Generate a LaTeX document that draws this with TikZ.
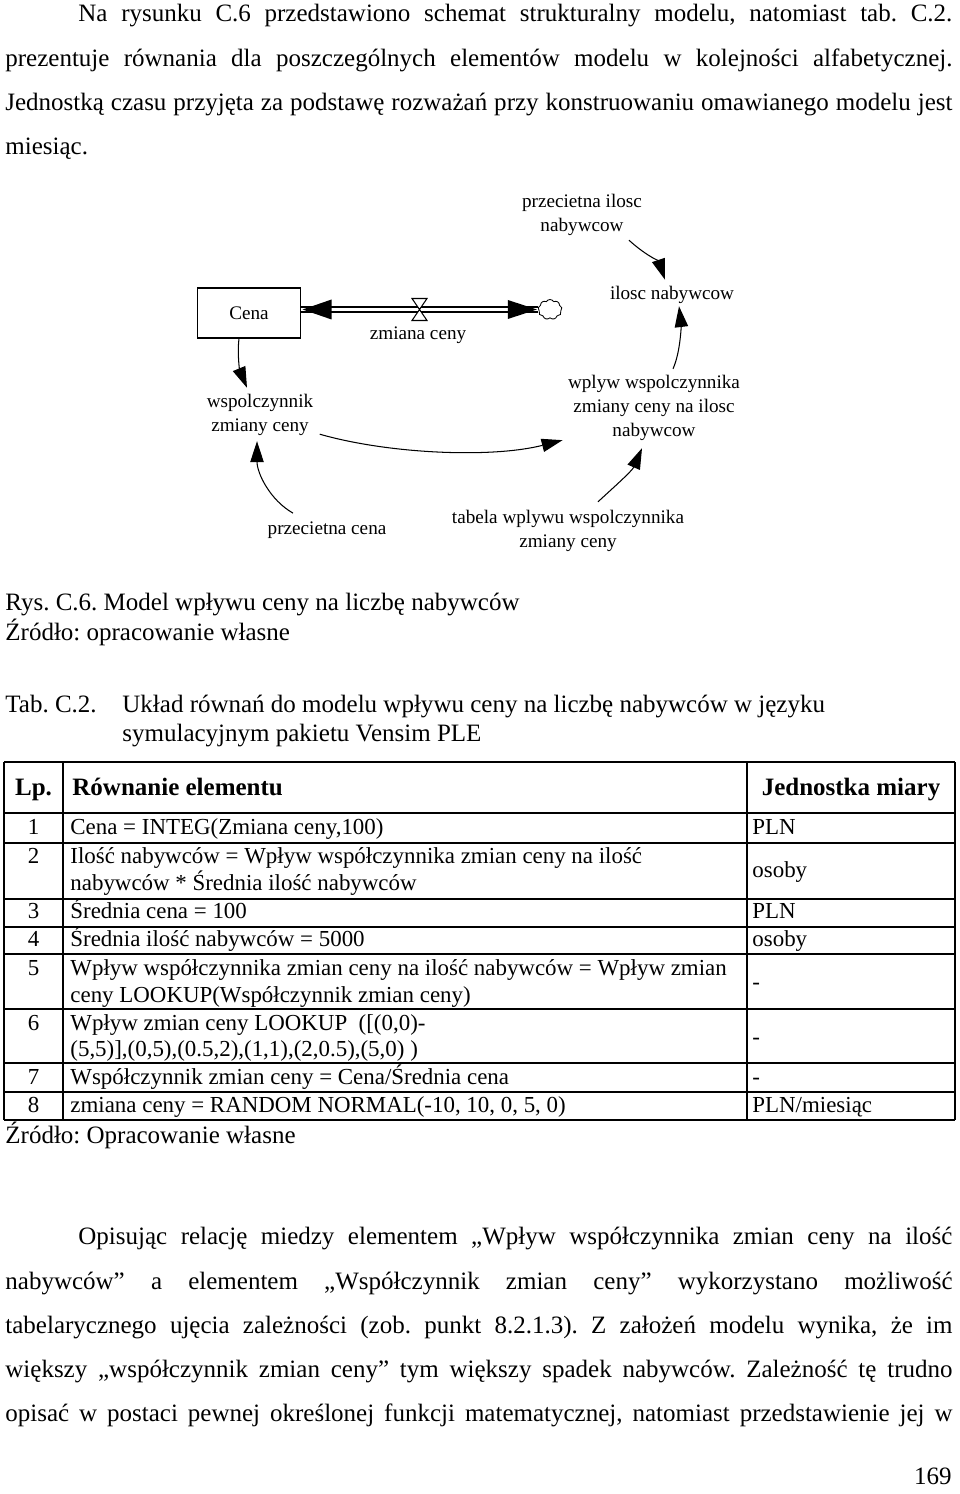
\documentclass[tikz,border=0pt]{standalone}
\usepackage{fontspec}
\setmainfont{Liberation Serif}
\usetikzlibrary{arrows.meta}
\usetikzlibrary{calc}
\usetikzlibrary{shapes.symbols}
\frenchspacing
\newcommand\diagfont{\fontsize{9.2}{11.5}\selectfont}
\newcommand\jline[2]{\makebox[#1][s]{#2}}
\tikzset{
  txt/.style={anchor=west, inner sep=0pt, text height=8.4pt, text depth=2.4pt, font=\fontsize{12}{14}\selectfont},
  cell/.style={txt, font=\fontsize{11}{13}\selectfont},
  num/.style={cell, anchor=center},
  head/.style={txt, font=\fontsize{12}{14}\selectfont\bfseries},
  var/.style={font=\diagfont, align=center, inner sep=1pt},
  stock/.style={draw, line width=0.5pt, minimum width=49pt, minimum height=24pt, inner sep=0pt, font=\diagfont},
  link/.style={line width=0.5pt, -{Triangle[length=10pt,width=6.4pt]}},
  pipe/.style={double, double distance=1.9pt, line width=0.5pt},
  rule/.style={line width=0.5pt}
}
\begin{document}
\begin{tikzpicture}[x=0.48pt, y=-0.48pt]
    \useasboundingbox (0,0) rectangle (960,1494);
    \node[txt] (p1a) at (78,15) {\jline{419.5pt}{Na rysunku C.6 przedstawiono schemat strukturalny modelu, natomiast tab. C.2.}};
    \node[txt] (p1b) at (5,60) {\jline{454.6pt}{prezentuje równania dla poszczególnych elementów modelu w kolejności alfabetycznej.}};
    \node[txt] (p1c) at (5,104) {\jline{454.6pt}{Jednostką czasu przyjęta za podstawę rozważań przy konstruowaniu omawianego modelu jest}};
    \node[txt] (p1d) at (5,148) {miesiąc.};

    \node[var] (pin) at (582,215) {przecietna ilosc\\nabywcow};
    \node[stock] (cena) at (249,313) {Cena};
    \node[var] (ilosc) at (672,295) {ilosc nabywcow};
    \node[cloud, draw, line width=0.4pt, cloud puffs=9, cloud puff arc=120, aspect=1.2, minimum width=11.5pt, minimum height=9.6pt, inner sep=0pt] (sink) at (550,309.5) {};
    \coordinate (valve) at (419.5,309.5);
    \node[var] (flow) at (418,335) {zmiana ceny};
    \node[var] (wspol) at (260,415) {wspolczynnik\\zmiany ceny};
    \node[var] (wplyw) at (654,408) {wplyw wspolczynnika\\zmiany ceny na ilosc\\nabywcow};
    \node[var] (pcena) at (327,530) {przecietna cena};
    \node[var] (tabela) at (568,531) {tabela wplywu wspolczynnika\\zmiany ceny};

    \draw[pipe] (cena.east |- sink.west) -- (sink.west);
    \fill ($(cena.east |- sink.west)+(2,0)$) -- ++(29,-10) -- ++(0,20) -- cycle;
    \fill ($(sink.west)+(-1,0)$) -- ++(-29,-9.5) -- ++(0,19) -- cycle;
    \draw[fill=white, line width=0.5pt] ($(valve)+(-7.5,-11)$) -- ++(15,0) -- ++(-15,22) -- ++(15,0) -- cycle;

    \draw[link] ($(pin.south)+(47,2)$) .. controls +(14,13) and +(-6,-18) .. ($(ilosc.north)+(-7,-4)$);
    \draw[link] ($(wplyw.north)+(19,-4)$) .. controls +(8,-18) and +(2,17) .. ($(ilosc.south)+(7,0)$);
    \draw[link] ($(cena.south)+(-10,0)$) .. controls +(-2,17) and +(-7,-17) .. ($(wspol.north)+(-13,-4)$);
    \draw[link] ($(wspol.south east)+(4,-4)$) .. controls +(70,20) and +(-70,18) .. ($(wplyw.south west)+(-3,-3)$);
    \draw[link] ($(pcena.north)+(-34,-6)$) .. controls +(-23,-13) and +(0,32) .. ($(wspol.south)+(-3,3)$);
    \draw[link] ($(tabela.north)+(30,-6)$) .. controls +(14,-13) and +(-10,23) .. ($(wplyw.south)+(-12,5)$);

    \node[txt] (rys) at (5,604) {Rys. C.6. Model wpływu ceny na liczbę nabywców};
    \node[txt] (zr1) at (5,634) {Źródło: opracowanie własne};
    \node[txt] (tab) at (5,706) {Tab. C.2.};
    \node[txt] (tta) at (122,706) {Układ równań do modelu wpływu ceny na liczbę nabywców w języku};
    \node[txt] (ttb) at (122,735) {symulacyjnym pakietu Vensim PLE};

    \foreach \y in {762,813,843,899,927,954,1009,1063,1092,1120}
      \draw[rule] (4,\y) -- (955,\y);
    \foreach \x in {4,63,747,955}
      \draw[rule] (\x,762) -- (\x,1120);

    \node[head, anchor=center] (hlp) at (33.5,789) {Lp.};
    \node[head] (heq) at (72,789) {Równanie elementu};
    \node[head, anchor=center] (hunit) at (851,789) {Jednostka miary};

    \node[num] (n1) at (33.5,828) {1};
    \node[cell] (e1) at (70,828) {Cena = INTEG(Zmiana ceny,100)};
    \node[cell] (u1) at (752,828) {PLN};
    \node[num] (n2) at (33.5,857) {2};
    \node[cell] (e2a) at (70,857) {Ilość nabywców = Wpływ współczynnika zmian ceny na ilość};
    \node[cell] (e2b) at (70,884) {nabywców * Średnia ilość nabywców};
    \node[cell] (u2) at (752,871) {osoby};
    \node[num] (n3) at (33.5,912) {3};
    \node[cell] (e3) at (70,912) {Średnia cena = 100};
    \node[cell] (u3) at (752,912) {PLN};
    \node[num] (n4) at (33.5,940) {4};
    \node[cell] (e4) at (70,940) {Średnia ilość nabywców = 5000};
    \node[cell] (u4) at (752,940) {osoby};
    \node[num] (n5) at (33.5,969) {5};
    \node[cell] (e5a) at (70,969) {Wpływ współczynnika zmian ceny na ilość nabywców = Wpływ zmian};
    \node[cell] (e5b) at (70,996) {ceny LOOKUP(Współczynnik zmian ceny)};
    \node[cell] (u5) at (752,983) {-};
    \node[num] (n6) at (33.5,1024) {6};
    \node[cell] (e6a) at (70,1024) {Wpływ zmian ceny LOOKUP\ \ ([(0,0)-};
    \node[cell] (e6b) at (70,1050) {(5,5)],(0,5),(0.5,2),(1,1),(2,0.5),(5,0) )};
    \node[cell] (u6) at (752,1038) {-};
    \node[num] (n7) at (33.5,1078) {7};
    \node[cell] (e7) at (70,1078) {Współczynnik zmian ceny = Cena/Średnia cena};
    \node[cell] (u7) at (752,1078) {-};
    \node[num] (n8) at (33.5,1106) {8};
    \node[cell] (e8) at (70,1106) {zmiana ceny = RANDOM NORMAL(-10, 10, 0, 5, 0)};
    \node[cell] (u8) at (752,1106) {PLN/miesiąc};
    \node[txt] (zr2) at (5,1137) {Źródło: Opracowanie własne};

    \node[txt] (p2a) at (78,1238) {\jline{419.5pt}{Opisując relację miedzy elementem „Wpływ współczynnika zmian ceny na ilość}};
    \node[txt] (p2b) at (5,1283) {\jline{454.6pt}{nabywców” a elementem „Współczynnik zmian ceny” wykorzystano możliwość}};
    \node[txt] (p2c) at (5,1327) {\jline{454.6pt}{tabelarycznego ujęcia zależności (zob. punkt 8.2.1.3). Z założeń modelu wynika, że im}};
    \node[txt] (p2d) at (5,1371) {\jline{454.6pt}{większy „współczynnik zmian ceny” tym większy spadek nabywców. Zależność tę trudno}};
    \node[txt] (p2e) at (5,1415) {\jline{454.6pt}{opisać w postaci pewnej określonej funkcji matematycznej, natomiast przedstawienie jej w}};
    \node[txt, anchor=east] (pg) at (952,1478) {169};
  \end{tikzpicture}
\end{document}
